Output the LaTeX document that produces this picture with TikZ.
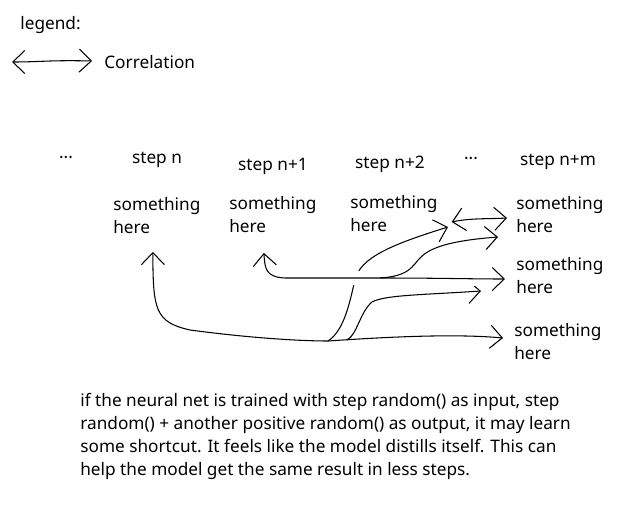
\documentclass[tikz,border=0pt]{standalone}
\usepackage{fontspec}
\setmainfont{Noto Sans}
\usetikzlibrary{arrows.meta, calc}
\tikzset{
  txt/.style={font=\fontsize{9.8}{13}\selectfont, inner sep=0pt},
  thing/.style={txt, anchor=west, align=left},
  cor/.style={-{Straight Barb[length=2.4mm,width=4.6mm]}, line width=0.6pt},
  dcor/.style={{Straight Barb[length=2.4mm,width=4.6mm]}-{Straight Barb[length=2.4mm,width=4.6mm]}, line width=0.6pt}
}

\begin{document}
\begin{tikzpicture}[x=0.02cm,y=-0.02cm]
    \useasboundingbox (0,0) rectangle (642,524);

    % legend
    \node[txt, anchor=west] (legend) at (20,25) {legend:};
    \node[txt, anchor=west] (corr) at (104,62) {Correlation};
    \coordinate (la) at (12,62);
    \draw[dcor] (la) .. controls (40,62) and (50,60) .. ($(corr.west)+(-12,-1)$);

    % step headers
    \node[txt] (d1) at (66,160) {···};
    \node[txt] (h1) at (157,160) {step n};
    \node[txt] (h2) at (273,166) {step n+1};
    \node[txt] (h3) at (390,164) {step n+2};
    \node[txt] (d2) at (471,161) {···};
    \node[txt] (h4) at (558,162) {step n+m};

    % step contents
    \node[thing] (s1) at (113,215.5) {something\\here};
    \node[thing] (s2) at (229,214.5) {something\\here};
    \node[thing] (s3) at (350,213.5) {something\\here};
    \node[thing] (s4) at (516,214.5) {something\\here};
    \node[thing] (s5) at (516,275.5) {something\\here};
    \node[thing] (s6) at (514,341.5) {something\\here};

    % correlations
    \coordinate (j) at (328,341);
    \coordinate (j2) at (347,340);
    \coordinate (k) at (380,278);
    \coordinate (cl) at (448,227);
    \draw[dcor] ($(s1.south)+(-4,18)$) .. controls (153,310) and (155,322) .. (190,330)
      .. controls (250,338) and (300,341) .. (j)
      .. controls (400,336) and (460,334) .. ($(s6.west)+(-11,-3.5)$);
    \draw[cor] (j) .. controls (345,330) and (350,300) .. (355,280)
      .. controls (360,258) and (390,245) .. (cl);
    \draw[cor] (j2) .. controls (357,335) and (360,312) .. (372,302)
      .. controls (385,295) and (420,295) .. ($(s5.west)+(-35,15.5)$);
    \draw[dcor, preaction={draw=white, line width=8pt, -}] ($(s2.south)+(-9,20)$)
      .. controls (265,268) and (265,277) .. (285,278) -- (k)
      .. controls (440,278) and (470,279) .. ($(s5.west)+(-11,3.5)$);
    \draw[cor] (k) .. controls (410,276) and (412,266) .. (420,258)
      .. controls (432,245) and (460,240) .. ($(s4.west)+(-18,22.5)$);
    \draw[dcor] ($(s3.east)+(14,8.5)$) .. controls (470,218) and (490,219) .. ($(s4.west)+(-9,3.5)$);

    % note
    \node[thing] (note) at (80,436.5) {if the neural net is trained with step random() as input, step\\
      random() + another positive random() as output, it may learn\\
      some shortcut. It feels like the model distills itself. This can\\
      help the model get the same result in less steps.};
\end{tikzpicture}
\end{document}
